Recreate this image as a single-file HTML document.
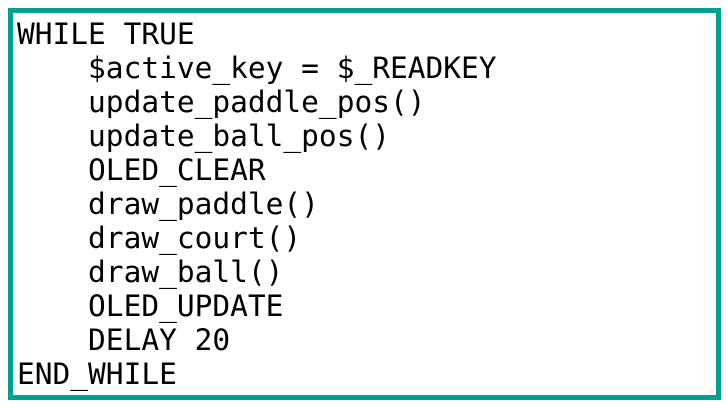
<!DOCTYPE html>
<html><head><style>
html,body{margin:0;padding:0;background:#fff;}
body{width:728px;height:407px;position:relative;overflow:hidden;}
.box{position:absolute;left:8px;top:8px;width:703px;height:382px;border:5px solid #00a090;}
pre{position:absolute;left:17px;top:17px;margin:0;font-family:"DejaVu Sans Mono","Liberation Mono",monospace;font-size:29.5px;line-height:34px;color:#000;}
</style></head><body>
<div class="box"></div>
<pre>WHILE TRUE
    $active_key = $_READKEY
    update_paddle_pos()
    update_ball_pos()
    OLED_CLEAR
    draw_paddle()
    draw_court()
    draw_ball()
    OLED_UPDATE
    DELAY 20
END_WHILE</pre>
</body></html>
